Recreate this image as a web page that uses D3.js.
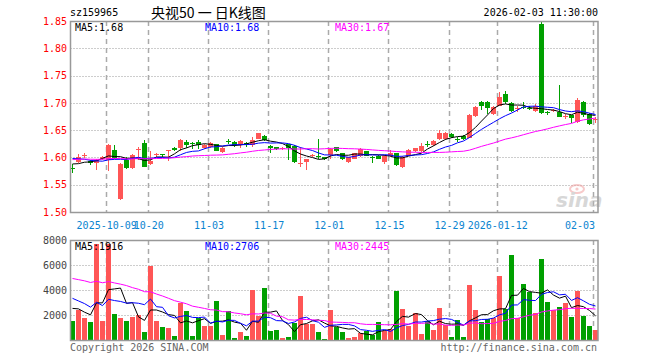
<!DOCTYPE html>
<html><head><meta charset="utf-8">
<script src="https://cdn.jsdelivr.net/npm/d3@7"></script>
<style>
body{margin:0;background:#fff}
svg{display:block}
text{font-family:"DejaVu Sans Mono",monospace;font-size:10px}
</style>
</head><body>
<svg id="c" width="660" height="360"></svg>
<script>
const dates = ["2025-09-23","2025-09-24","2025-09-25","2025-09-26","2025-09-29","2025-09-30","2025-10-09","2025-10-10","2025-10-13","2025-10-14","2025-10-15","2025-10-16","2025-10-17","2025-10-20","2025-10-21","2025-10-22","2025-10-23","2025-10-24","2025-10-27","2025-10-28","2025-10-29","2025-10-30","2025-10-31","2025-11-03","2025-11-04","2025-11-05","2025-11-06","2025-11-07","2025-11-10","2025-11-11","2025-11-12","2025-11-13","2025-11-14","2025-11-17","2025-11-18","2025-11-19","2025-11-20","2025-11-21","2025-11-24","2025-11-25","2025-11-26","2025-11-27","2025-11-28","2025-12-01","2025-12-02","2025-12-03","2025-12-04","2025-12-05","2025-12-08","2025-12-09","2025-12-10","2025-12-11","2025-12-12","2025-12-15","2025-12-16","2025-12-17","2025-12-18","2025-12-19","2025-12-22","2025-12-23","2025-12-24","2025-12-25","2025-12-26","2025-12-29","2025-12-30","2025-12-31","2026-01-05","2026-01-06","2026-01-07","2026-01-08","2026-01-09","2026-01-12","2026-01-13","2026-01-14","2026-01-15","2026-01-16","2026-01-19","2026-01-20","2026-01-21","2026-01-22","2026-01-23","2026-01-26","2026-01-27","2026-01-28","2026-01-29","2026-01-30","2026-02-02","2026-02-03"];

const open = [1.581,1.591,1.604,1.593,1.590,1.598,1.596,1.614,1.524,1.596,
1.580,1.614,1.626,1.588,1.605,1.606,1.613,1.618,1.618,1.629,
1.627,1.629,1.617,1.620,1.624,1.610,1.631,1.628,1.622,1.626,
1.623,1.634,1.640,1.621,1.619,1.617,1.624,1.621,1.588,1.592,
1.603,1.603,1.600,1.605,1.619,1.608,1.592,1.598,1.603,1.611,
1.601,1.603,1.592,1.602,1.608,1.583,1.603,1.611,1.611,1.625,
1.622,1.633,1.634,1.643,1.6345,1.640,1.636,1.676,1.702,1.702,
1.679,1.695,1.716,1.700,1.689,1.692,1.690,1.685,1.845,1.683,
1.685,1.684,1.674,1.677,1.665,1.701,1.679,1.668];

const high = [1.588,1.606,1.608,1.596,1.598,1.602,1.625,1.622,1.589,1.601,
1.606,1.619,1.632,1.612,1.608,1.607,1.614,1.620,1.633,1.632,
1.629,1.632,1.625,1.628,1.625,1.619,1.634,1.630,1.632,1.628,
1.638,1.645,1.641,1.623,1.620,1.620,1.625,1.623,1.620,1.598,
1.607,1.634,1.601,1.617,1.620,1.609,1.601,1.609,1.617,1.612,
1.603,1.604,1.604,1.614,1.609,1.603,1.615,1.618,1.626,1.630,
1.632,1.651,1.647,1.645,1.638,1.641,1.680,1.695,1.703,1.703,
1.695,1.720,1.722,1.702,1.695,1.702,1.695,1.697,1.848,1.685,
1.689,1.733,1.679,1.678,1.709,1.703,1.682,1.674];

const low = [1.571,1.589,1.599,1.587,1.577,1.596,1.576,1.597,1.522,1.579,
1.579,1.596,1.582,1.587,1.601,1.601,1.594,1.611,1.611,1.617,
1.616,1.616,1.616,1.618,1.611,1.609,1.624,1.620,1.617,1.620,
1.620,1.633,1.630,1.609,1.614,1.614,1.595,1.589,1.583,1.577,
1.600,1.598,1.596,1.598,1.610,1.595,1.590,1.597,1.601,1.602,
1.589,1.597,1.588,1.600,1.585,1.580,1.602,1.610,1.610,1.620,
1.621,1.632,1.632,1.635,1.628,1.632,1.635,1.674,1.686,1.679,
1.677,1.694,1.698,1.684,1.684,1.688,1.686,1.684,1.680,1.678,
1.683,1.674,1.670,1.663,1.664,1.675,1.659,1.663];

const close = [1.580,1.600,1.605,1.589,1.596,1.601,1.623,1.599,1.588,1.580,
1.605,1.616,1.583,1.594,1.606,1.605,1.614,1.614,1.632,1.622,
1.626,1.623,1.623,1.626,1.612,1.618,1.630,1.623,1.631,1.623,
1.632,1.644,1.632,1.618,1.615,1.618,1.617,1.592,1.589,1.597,
1.604,1.600,1.597,1.615,1.611,1.597,1.600,1.608,1.615,1.603,
1.600,1.598,1.603,1.608,1.586,1.601,1.614,1.617,1.621,1.624,
1.630,1.645,1.645,1.637,1.634,1.634,1.678,1.692,1.695,1.690,
1.693,1.710,1.702,1.685,1.690,1.691,1.689,1.695,1.682,1.682,
1.686,1.675,1.676,1.672,1.705,1.677,1.661,1.671];

const volume = [1547,2400,1787,1440,7680,1547,7680,2080,1787,1547,
1867,1973,667,5947,1547,1067,933,320,2987,2320,
320,1787,1120,1120,3120,400,2320,187,667,320,
4000,1920,4187,720,800,187,240,1387,3520,1253,
1280,640,80,2400,1067,640,187,240,533,720,
400,1440,720,907,3920,2480,1120,2160,480,1520,
800,2560,1200,240,1600,240,4400,2400,1467,1653,
1787,5120,2480,6800,1733,4480,3867,2160,6480,3067,
2400,2640,2960,1867,3920,1947,1120,827];

// sessions before the visible window (only feed the moving averages)
const warmupClose = [1.585,1.590,1.598,1.602,1.596,1.590,1.588,1.594,1.600,1.605,
1.598,1.592,1.590,1.596,1.601,1.597,1.593,1.595,1.599,1.591,
1.606,1.612,1.610,1.605,1.607,1.597,1.592,1.586,1.585];
const warmupVolume = [5200,4600,5400,4800,5100,4900,5300,4700,5000,6800,
5900,6500,6100,7000,5800,6400,6000,6600,6200,6000,
4500,3900,4300,3800,4200,2600,3100,2500,2900];

const priceTicks = [1.50,1.55,1.60,1.65,1.70,1.75,1.80,1.85];
const volumeTicks = [2000,4000,6000,8000];
const dateTicks = ["2025-10-09","2025-10-20","2025-11-03","2025-11-17","2025-12-01","2025-12-15","2025-12-29","2026-01-12","2026-02-03"];
const dateTickLabels = ["2025-10-09","10-20","11-03","11-17","12-01","12-15","12-29","2026-01-12","02-03"];
const maPeriods = [5,10,30];
const maColors = ["#000000","#0000ff","#ff00ff"];
const priceMALegend = [1.68,1.68,1.67];
const volumeMALegend = [1916,2706,2445];

const svg = d3.select("#c");
const L = 70.5, R = 598, PT = 21, PB = 212, VT = 240, VB = 340;
const RED = "#ff5656", GREEN = "#00a000";

const x = d3.scaleBand().domain(dates).range([68.6, 598.0]);
const cx = d => Math.round(x(d) + x.bandwidth() / 2);
const y = d3.scaleLinear().domain([1.50, 1.85]).range([PB, PT]);
const yv = d3.scaleLinear().domain([0, 8000]).range([VB, VT]);

const rows = dates.map((d, i) => ({d, o: open[i], h: high[i], l: low[i], c: close[i], v: volume[i], up: close[i] >= open[i]}));

function movingAvg(series, warm, n) {
  const all = warm.concat(series), off = warm.length;
  return series.map((_, i) => { let s = 0; for (let k = i + off - n + 1; k <= i + off; k++) s += all[k]; return s / n; });
}

// header
svg.append("text").attr("x", 70).attr("y", 16).attr("fill", "#000").text("sz159965");
svg.append("text").attr("x", 151).attr("y", 18).attr("fill", "#000")
  .style("font-family", "'Noto Sans CJK SC',sans-serif").style("font-size", "14px").text("央视50 一 日K线图");
svg.append("text").attr("x", 598).attr("y", 16).attr("text-anchor", "end").attr("fill", "#000").text("2026-02-03 11:30:00");

// grids
const grid = svg.append("g");
grid.selectAll(".hp").data(priceTicks.slice(1, -1)).join("line")
  .attr("x1", L).attr("x2", R).attr("y1", d => Math.round(y(d)) + 0.5).attr("y2", d => Math.round(y(d)) + 0.5)
  .attr("stroke", "#9a9a9a").attr("stroke-dasharray", "1,2");
grid.selectAll(".hv").data(volumeTicks.slice(0, -1)).join("line")
  .attr("x1", L).attr("x2", R).attr("y1", d => Math.round(yv(d)) + 0.5).attr("y2", d => Math.round(yv(d)) + 0.5)
  .attr("stroke", "#9a9a9a").attr("stroke-dasharray", "1,2");
[[PT, PB], [VT, VB]].forEach(([t, b]) => {
  grid.selectAll(null).data(dateTicks).join("line")
    .attr("x1", d => cx(d) - 1.5).attr("x2", d => cx(d) - 1.5).attr("y1", t).attr("y2", b)
    .attr("stroke", "#aaaaaa").attr("stroke-width", 1.5).attr("stroke-dasharray", "5,4");
});

// watermark
const wm = svg.append("g").attr("opacity", 0.55);
wm.append("ellipse").attr("cx", 577).attr("cy", 189).attr("rx", 7).attr("ry", 4).attr("fill", "none").attr("stroke", "#f2a0a0").attr("stroke-width", 2);
wm.append("circle").attr("cx", 577).attr("cy", 189).attr("r", 1.6).attr("fill", "#f2a0a0");
wm.append("text").attr("x", 556).attr("y", 207).attr("fill", "#b8b8b8")
  .style("font-family", "'DejaVu Sans',sans-serif").style("font-size", "20px").style("font-style", "italic").style("font-weight", "bold").text("sina");

// candles
const cg = svg.append("g").attr("shape-rendering", "crispEdges");
cg.selectAll("line").data(rows).join("line")
  .attr("x1", d => cx(d.d) + 0.5).attr("x2", d => cx(d.d) + 0.5)
  .attr("y1", d => y(d.h)).attr("y2", d => y(d.l))
  .attr("stroke", d => d.up ? RED : GREEN);
cg.selectAll("rect").data(rows).join("rect")
  .attr("x", d => cx(d.d) - 2).attr("width", 5)
  .attr("y", d => y(Math.max(d.o, d.c)))
  .attr("height", d => Math.max(1, y(Math.min(d.o, d.c)) - y(Math.max(d.o, d.c))))
  .attr("fill", d => d.up ? RED : GREEN);

// volume bars
svg.append("g").attr("shape-rendering", "crispEdges").selectAll("rect").data(rows).join("rect")
  .attr("x", d => cx(d.d) - 2).attr("width", 5)
  .attr("y", d => yv(d.v)).attr("height", d => VB - yv(d.v))
  .attr("fill", d => d.up ? RED : GREEN);

// moving averages
maPeriods.forEach((n, k) => {
  const pm = movingAvg(close, warmupClose, n);
  const vm = movingAvg(volume, warmupVolume, n);
  svg.append("path").datum(pm).attr("fill", "none").attr("stroke", maColors[k]).attr("stroke-width", 1)
    .attr("d", d3.line().x((v, i) => cx(dates[i]) + 0.5).y(v => y(v)));
  svg.append("path").datum(vm).attr("fill", "none").attr("stroke", maColors[k]).attr("stroke-width", 1)
    .attr("d", d3.line().x((v, i) => cx(dates[i]) + 0.5).y(v => yv(v)));
});

// frames
svg.append("rect").attr("x", L).attr("y", PT + 0.5).attr("width", R - L).attr("height", PB - PT)
  .attr("fill", "none").attr("stroke", "#999").attr("stroke-width", 1.5);
svg.append("rect").attr("x", L).attr("y", VT + 0.5).attr("width", R - L).attr("height", VB - VT)
  .attr("fill", "none").attr("stroke", "#999").attr("stroke-width", 1.5);

// axes
const ya = svg.append("g").attr("transform", `translate(${L - 0.5},0)`)
  .call(d3.axisLeft(y).tickValues(priceTicks).tickSize(0).tickPadding(3).tickFormat(d3.format(".2f")));
ya.select(".domain").remove();
ya.selectAll("text").attr("fill", "#ff0000").style("font-family", "'DejaVu Sans Mono',monospace").style("font-size", "10px");

const va = svg.append("g").attr("transform", `translate(${L - 0.5},0)`)
  .call(d3.axisLeft(yv).tickValues(volumeTicks).tickSize(0).tickPadding(3).tickFormat(d3.format("d")));
va.select(".domain").remove();
va.selectAll("text").attr("fill", "#444").style("font-family", "'DejaVu Sans Mono',monospace").style("font-size", "10px");

const xa = svg.append("g").attr("transform", `translate(-1,${PB})`)
  .call(d3.axisBottom(x).tickValues(dateTicks).tickSize(0).tickPadding(10).tickFormat((d, i) => dateTickLabels[i]));
xa.select(".domain").remove();
xa.selectAll("text").attr("fill", "#0a84d0").style("font-family", "'DejaVu Sans Mono',monospace").style("font-size", "10px");
xa.selectAll(".tick").filter((d, i) => i === dateTicks.length - 1).select("text").attr("text-anchor", "end").attr("x", 1);

// legends
const legX = [75, 205, 335];
maPeriods.forEach((n, k) => {
  svg.append("text").attr("x", legX[k]).attr("y", 31).attr("fill", maColors[k]).text(`MA${n}:${priceMALegend[k].toFixed(2)}`);
  svg.append("text").attr("x", legX[k]).attr("y", 250).attr("fill", maColors[k]).text(`MA${n}:${volumeMALegend[k]}`);
});

// footer
svg.append("text").attr("x", 70).attr("y", 351).attr("fill", "#666").text("Copyright 2026 SINA.COM");
svg.append("text").attr("x", 597).attr("y", 351).attr("text-anchor", "end").attr("fill", "#666").text("http://finance.sina.com.cn");
</script>
</body></html>
